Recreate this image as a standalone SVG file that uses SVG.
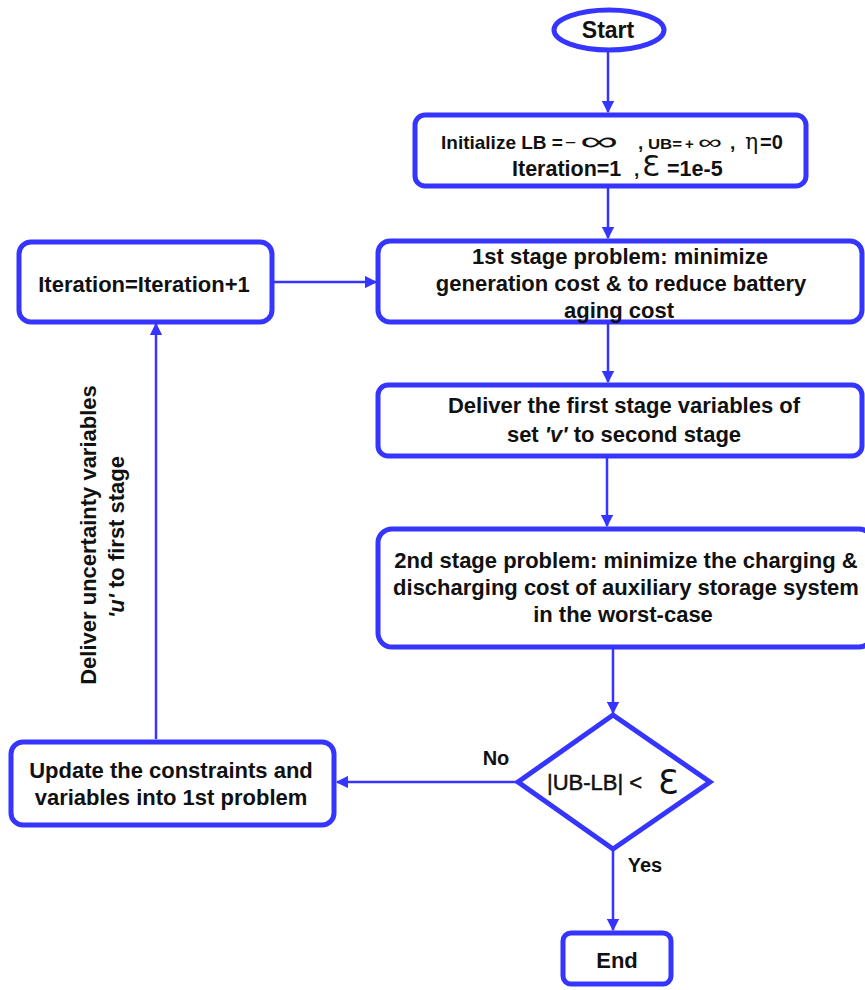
<svg xmlns="http://www.w3.org/2000/svg" width="865" height="990" viewBox="0 0 865 990">
<style>
.box{fill:#fff;stroke:#3535FF;stroke-width:5}
.ln{stroke:#3535FF;stroke-width:2.5;fill:none}
.t{font-family:"Liberation Sans",Arial,sans-serif;font-weight:bold;font-size:22px;fill:#111;text-anchor:middle}
.s{text-anchor:start}
.n{font-weight:normal}
</style>
<defs>
<marker id="ah" viewBox="0 0 10 10" refX="9" refY="5" markerWidth="5" markerHeight="5" orient="auto" markerUnits="strokeWidth">
<path d="M0,0 L10,5 L0,10 z" fill="#3535FF"/>
</marker>
</defs>
<g id="connectors">
<line class="ln" x1="608" y1="50" x2="608" y2="112" marker-end="url(#ah)"/>
<line class="ln" x1="608" y1="188" x2="608" y2="238" marker-end="url(#ah)"/>
<line class="ln" x1="608" y1="323" x2="608" y2="382" marker-end="url(#ah)"/>
<line class="ln" x1="607" y1="458" x2="607" y2="526" marker-end="url(#ah)"/>
<line class="ln" x1="613" y1="648" x2="613" y2="713" marker-end="url(#ah)"/>
<line class="ln" x1="518" y1="782" x2="337" y2="782" marker-end="url(#ah)"/>
<line class="ln" x1="613" y1="850" x2="613" y2="930" marker-end="url(#ah)"/>
<line class="ln" x1="156" y1="739" x2="156" y2="324" marker-end="url(#ah)"/>
<line class="ln" x1="274" y1="282" x2="376" y2="282" marker-end="url(#ah)"/>
<text class="t" x="496" y="765" style="font-size:20px">No</text>
<text class="t" x="645" y="872" style="font-size:20px">Yes</text>
<text class="t" transform="translate(96,535) rotate(-90)">Deliver uncertainty variables</text>
<text class="t" transform="translate(124,537) rotate(-90)"><tspan style="font-style:italic">'u'</tspan> to first stage</text>
</g>
<g id="start">
<ellipse class="box" cx="609" cy="30" rx="55" ry="20"/>
<text class="t" x="608" y="38" style="font-size:23px">Start</text>
</g>
<g id="init">
<rect class="box" x="415" y="115" width="391" height="71" rx="10"/>
<text class="t s" x="441" y="149" style="font-size:19px">Initialize LB =</text>
<text class="t s n" x="565" y="149" style="font-size:19px">−</text>
<text class="t s n" x="580" y="150" style="font-size:26px" textLength="38" lengthAdjust="spacingAndGlyphs">∞</text>
<text class="t s" x="638" y="149" style="font-size:19px">,</text>
<text class="t s" x="648" y="149" style="font-size:14px" textLength="34" lengthAdjust="spacingAndGlyphs">UB=</text>
<text class="t s" x="685" y="149" style="font-size:15px">+</text>
<text class="t s n" x="698" y="149" style="font-size:20px" textLength="24" lengthAdjust="spacingAndGlyphs">∞</text>
<text class="t s" x="730" y="149" style="font-size:19px">,</text>
<text class="t s n" x="745" y="149" style="font-size:22px;font-family:'DejaVu Serif',serif">η</text>
<text class="t s" x="760" y="149" style="font-size:20px">=0</text>
<text class="t s" x="512" y="176" style="font-size:21.5px">Iteration=1</text>
<text class="t s" x="634" y="176" style="font-size:19px">,</text>
<text class="t s n" x="642" y="176" style="font-size:29px;font-family:'DejaVu Sans',sans-serif">Ɛ</text>
<text class="t s" x="667" y="176" style="font-size:21.5px">=1e-5</text>
</g>
<g id="stage1">
<rect class="box" x="378" y="241" width="484" height="81" rx="12"/>
<text class="t" x="620" y="264">1st stage problem: minimize</text>
<text class="t" x="621" y="291">generation cost &amp; to reduce battery</text>
<text class="t" x="619" y="318">aging cost</text>
</g>
<g id="deliver">
<rect class="box" x="378" y="385" width="484" height="71" rx="10"/>
<text class="t" x="624" y="413">Deliver the first stage variables of</text>
<text class="t" x="624" y="442">set <tspan style="font-style:italic">'v'</tspan> to second stage</text>
</g>
<g id="stage2">
<rect class="box" x="378" y="529" width="495" height="118" rx="14"/>
<text class="t" x="626" y="568">2nd stage problem: minimize the charging &amp;</text>
<text class="t" x="626" y="595">discharging cost of auxiliary storage system</text>
<text class="t" x="623" y="622">in the worst-case</text>
</g>
<g id="decision">
<polygon class="box" points="613,715 710,782 613,849 518,782"/>
<text class="t s n" x="547" y="790" stroke="#111" stroke-width="0.5">|UB-LB| &lt;</text>
<text class="t s n" x="658" y="794" style="font-size:33px;font-family:'DejaVu Sans',sans-serif">Ɛ</text>
</g>
<g id="iteration">
<rect class="box" x="19" y="242" width="253" height="80" rx="12"/>
<text class="t" x="144" y="292">Iteration=Iteration+1</text>
</g>
<g id="update">
<rect class="box" x="11" y="742" width="323" height="83" rx="12"/>
<text class="t" x="171" y="778">Update the constraints and</text>
<text class="t" x="171" y="805">variables into 1st problem</text>
</g>
<g id="end">
<rect class="box" x="563" y="933" width="108" height="51" rx="8"/>
<text class="t" x="617" y="968">End</text>
</g>
</svg>
